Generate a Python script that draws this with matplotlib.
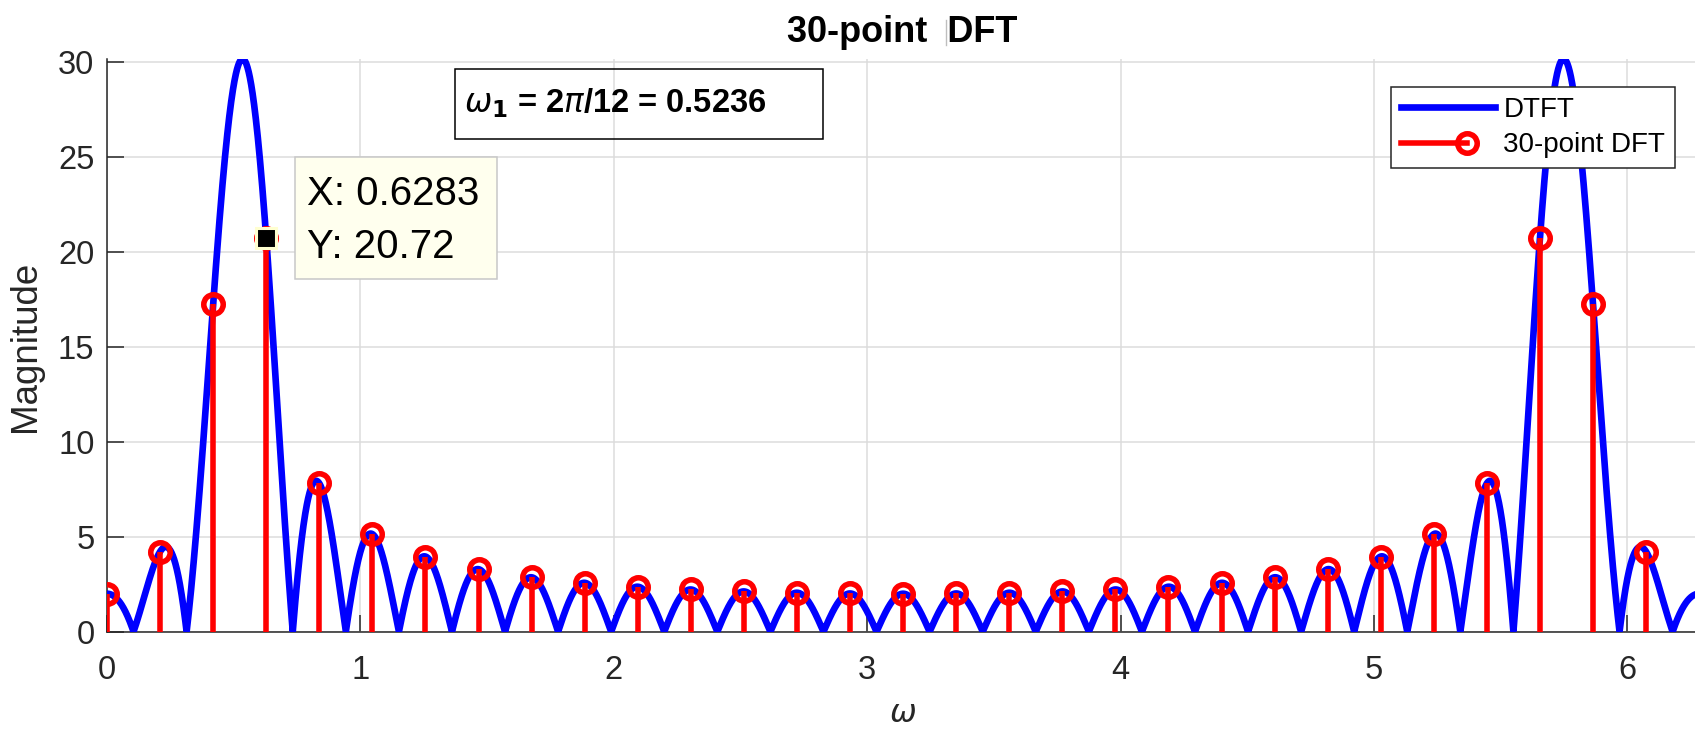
import numpy as np
import matplotlib
matplotlib.use("Agg")
import matplotlib.pyplot as plt
from matplotlib.lines import Line2D
from matplotlib.patches import Rectangle
from matplotlib.legend_handler import HandlerBase

# ---------------- data ----------------
# 30 samples of x[n] = 2*cos(w1*n), w1 = 2*pi/12 (as stated in the chart)
signal = [2.0, 1.7320508, 1.0, 0.0, -1.0, -1.7320508, -2.0, -1.7320508, -1.0, 0.0, 1.0, 1.7320508,
          2.0, 1.7320508, 1.0, 0.0, -1.0, -1.7320508, -2.0, -1.7320508, -1.0, 0.0, 1.0, 1.7320508,
          2.0, 1.7320508, 1.0, 0.0, -1.0, -1.7320508]
N_dft = 30
n_dense = 8192
xticks = [0, 1, 2, 3, 4, 5, 6]
yticks = [0, 5, 10, 15, 20, 25, 30]
title_text = "30-point  DFT"
w1_text = r"$\omega_{\mathbf{1}}$ = 2$\pi$/12 = 0.5236"
datatip_lines = ["X: 0.6283", "Y: 20.72"]
tip_index = 3
legend_labels = ["DTFT", "30-point DFT"]

sig = np.asarray(signal)
dtft_mag = np.abs(np.fft.fft(sig, n_dense))
dtft_mag = np.append(dtft_mag, dtft_mag[0])
dtft_w = np.linspace(0, 2 * np.pi, n_dense + 1)
dft_mag = np.abs(np.fft.fft(sig, N_dft))
dft_w = 2 * np.pi * np.arange(N_dft) / N_dft

# ---------------- figure ----------------
W, H = 1695, 731
fig = plt.figure(figsize=(W / 100, H / 100), dpi=100)
plt.rcParams['font.family'] = ['Liberation Sans', 'DejaVu Sans']

def fx(px):
    return px / W

def fy(py):
    return 1 - py / H

ytop = dtft_mag.max()
px_per_x = 253.4
px_per_y = 19.0
left, bottom = 107, 631.7
ax = fig.add_axes([fx(left), fy(bottom), 2 * np.pi * px_per_x / W, ytop * px_per_y / H])

blue = (0, 0, 1)
red = (1, 0, 0)
dark = '#262626'

ax.plot(dtft_w, dtft_mag, color=blue, lw=4.8, zorder=3, solid_capstyle='round')
ax.vlines(dft_w, 0, dft_mag, color=red, lw=4.0, zorder=4)
ax.plot(dft_w, dft_mag, 'o', ms=14, mfc='none', mec=red, mew=4.0, zorder=5)
ax.plot(dft_w[tip_index], dft_mag[tip_index], 's', ms=14, mfc='black', mec='#FFFFD0', mew=2.2, zorder=6)

ax.set_xlim(0, 2 * np.pi)
ax.set_ylim(0, ytop)
ax.set_xticks(xticks)
ax.set_yticks(yticks)
ax.grid(True, color='#DCDCDC', lw=1.1)
ax.set_axisbelow(True)
for s in ['top', 'right']:
    ax.spines[s].set_visible(False)
for s in ['left', 'bottom']:
    ax.spines[s].set_color(dark)
    ax.spines[s].set_linewidth(1.1)
    ax.spines[s].set_zorder(2.5)
ax.tick_params(direction='in', length=12, width=1.1, colors=dark, labelsize=23.5, labelcolor=dark)
ax.tick_params(axis='x', pad=17)
ax.tick_params(axis='y', pad=9)

# legend with MATLAB-like stem handle
class StemHandler(HandlerBase):
    def create_artists(self, legend, orig_handle, xdescent, ydescent, width, height, fontsize, trans):
        y = height / 2 - ydescent
        x0 = -xdescent
        xm = x0 + 0.7 * width
        ln = Line2D([x0, xm], [y, y], color=red, lw=4.0)
        mk = Line2D([xm], [y], marker='o', ms=14, mfc='none', mec=red, mew=4.0, ls='none')
        ln.set_transform(trans)
        mk.set_transform(trans)
        return [ln, mk]

h_dtft = Line2D([], [], color=blue, lw=4.8)
h_dft = Line2D([], [], color=red)
leg = ax.legend([h_dtft, h_dft], legend_labels, handler_map={h_dft: StemHandler()},
                loc='upper right', bbox_to_anchor=(fx(1675), fy(87)), bbox_transform=fig.transFigure,
                fontsize=20, frameon=True, fancybox=False, framealpha=1, edgecolor=dark,
                borderpad=0.35, handlelength=3.4, handletextpad=0.3, labelspacing=0.35, borderaxespad=0)
leg.get_frame().set_linewidth(1.1)
leg.set_zorder(10)

# title
fig.text(fx(902), fy(42), title_text, ha='center', va='baseline', fontsize=26, fontweight='bold', color='black')
fig.add_artist(Line2D([fx(946), fx(946)], [fy(20), fy(45)], color='#BEBEBE', lw=1.0))

# axis labels
fig.text(fx(25), fy(346), "Magnitude", rotation=90, ha='center', va='center', fontsize=26.5, color=dark)
fig.text(fx(903), fy(714), r"$\omega$", ha='center', va='center', fontsize=23, color=dark)

# annotation textbox
fig.add_artist(Rectangle((fx(455), fy(139)), fx(823) - fx(455), fy(69) - fy(139), transform=fig.transFigure,
                         fill=False, edgecolor='black', lw=1.1, zorder=8))
fig.text(fx(464), fy(112), w1_text, ha='left', va='baseline', fontsize=23.5, fontweight='bold', color='black', zorder=8)

# datatip
fig.add_artist(Rectangle((fx(295), fy(279)), fx(497) - fx(295), fy(157) - fy(279), transform=fig.transFigure,
                         facecolor='#FFFFEE', edgecolor='#C8C8C8', lw=1.1, zorder=8))
fig.text(fx(307), fy(205), datatip_lines[0], ha='left', va='baseline', fontsize=29, color='black', zorder=9)
fig.text(fx(307), fy(258), datatip_lines[1], ha='left', va='baseline', fontsize=29, color='black', zorder=9)

fig.savefig("out.png", dpi=100)
